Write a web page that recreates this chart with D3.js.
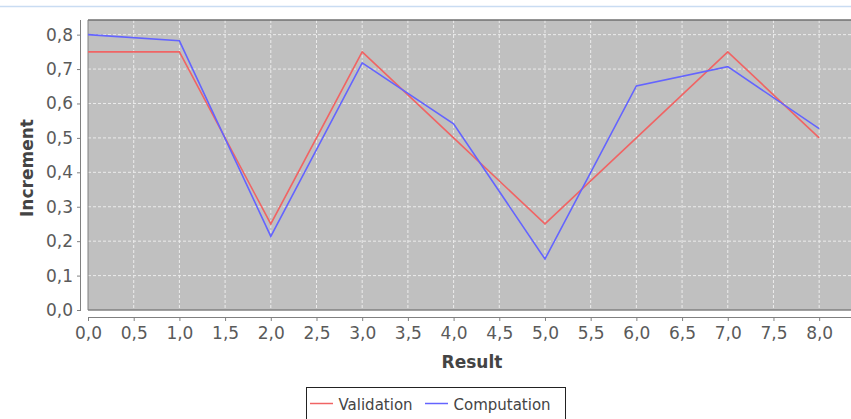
<!DOCTYPE html>
<html lang="en">
  <head>
    <meta charset="utf-8">
    <title>Increment vs Result</title>
    <style type="text/css">
      body{
        margin: 0;
        background: #ffffff;
      }
      .tick text{
        font-family: "DejaVu Sans", Verdana, sans-serif;
        font-size: 17px;
        fill: #5a5a5a;
      }
    </style>
    <script src="https://cdn.jsdelivr.net/npm/d3@7"></script>
  </head>
  <body>
    <div class="chart"></div>
    <script type="text/javascript">
      //series values, one point per result step
      var results = [0, 1, 2, 3, 4, 5, 6, 7, 8];
      var validation = [0.75, 0.75, 0.25, 0.75, 0.5, 0.25, 0.5, 0.75, 0.5];
      var computation = [0.80, 0.782, 0.214, 0.718, 0.541, 0.148, 0.651, 0.707, 0.527];
      var seriesNames = ["Validation", "Computation"];
      var seriesColors = ["#f06464", "#6464ff"];
      var xTicks = [0, 0.5, 1, 1.5, 2, 2.5, 3, 3.5, 4, 4.5, 5, 5.5, 6, 6.5, 7, 7.5, 8];
      var yTicks = [0, 0.1, 0.2, 0.3, 0.4, 0.5, 0.6, 0.7, 0.8];

      var width = 851;
      var height = 419;
      //plot area box
      var plot = {left: 88, right: 858, top: 20, bottom: 310};

      var svg = d3.select(".chart")
        .append("svg")
        .attr("width", width)
        .attr("height", height);

      //thin line across the top of the frame
      svg.append("line")
        .attr("x1", 0).attr("x2", width)
        .attr("y1", 6.5).attr("y2", 6.5)
        .attr("stroke", "#c9dcf2")
        .attr("stroke-width", 1.5);

      var x = d3.scaleLinear()
        .domain([0, 8.425])
        .range([plot.left, plot.right]);

      var y = d3.scaleLinear()
        .domain([0, 0.8425])
        .range([plot.bottom, plot.top]);

      var fmt = d => d3.format(".1f")(d).replace(".", ",");

      //grey plot background
      svg.append("rect")
        .attr("x", plot.left)
        .attr("y", plot.top)
        .attr("width", plot.right - plot.left)
        .attr("height", plot.bottom - plot.top)
        .attr("fill", "#c0c0c0");

      //dashed white grid
      svg.append("g")
        .selectAll("line")
        .data(xTicks.slice(1))
        .enter()
        .append("line")
        .attr("x1", d => x(d)).attr("x2", d => x(d))
        .attr("y1", plot.top).attr("y2", plot.bottom)
        .attr("stroke", "#ececec")
        .attr("stroke-width", 1)
        .attr("stroke-dasharray", "3,2");

      svg.append("g")
        .selectAll("line")
        .data(yTicks.slice(1))
        .enter()
        .append("line")
        .attr("x1", plot.left).attr("x2", plot.right)
        .attr("y1", d => y(d)).attr("y2", d => y(d))
        .attr("stroke", "#ececec")
        .attr("stroke-width", 1)
        .attr("stroke-dasharray", "3,2");

      //plot outline
      svg.append("line")
        .attr("x1", plot.left).attr("x2", plot.right)
        .attr("y1", plot.top).attr("y2", plot.top)
        .attr("stroke", "#707070").attr("stroke-width", 1.5);
      svg.append("line")
        .attr("x1", plot.left).attr("x2", plot.right)
        .attr("y1", plot.bottom).attr("y2", plot.bottom)
        .attr("stroke", "#808080").attr("stroke-width", 1.5);
      svg.append("line")
        .attr("x1", plot.left).attr("x2", plot.left)
        .attr("y1", plot.top).attr("y2", plot.bottom)
        .attr("stroke", "#808080").attr("stroke-width", 1);

      //axes sit a few pixels off the plot
      var yAxis = svg.append("g")
        .attr("transform", "translate(81,0)")
        .call(d3.axisLeft(y).tickValues(yTicks).tickFormat(fmt).tickSize(4).tickPadding(4));

      var xAxis = svg.append("g")
        .attr("transform", "translate(0,317)")
        .call(d3.axisBottom(x).tickValues(xTicks).tickFormat(fmt).tickSize(4).tickPadding(5.5));

      [yAxis, xAxis].forEach(a => {
        a.selectAll("path, line").attr("stroke", "#808080");
        a.selectAll("text").style("font-size", "17px");
      });
      yAxis.select(".domain").attr("d", `M-0.5,${plot.top}V${plot.bottom}`);
      xAxis.select(".domain").attr("d", `M${plot.left},0.5H${width}`);

      //axis titles
      svg.append("text")
        .attr("transform", `translate(33,${(plot.top + plot.bottom) / 2 + 3}) rotate(-90)`)
        .attr("text-anchor", "middle")
        .style("font-family", "DejaVu Sans, sans-serif")
        .style("font-size", "17px")
        .style("font-weight", "bold")
        .attr("fill", "#444")
        .text("Increment");

      svg.append("text")
        .attr("x", 472)
        .attr("y", 368)
        .attr("text-anchor", "middle")
        .style("font-family", "DejaVu Sans, sans-serif")
        .style("font-size", "17px")
        .style("font-weight", "bold")
        .attr("fill", "#444")
        .text("Result");

      //the two series
      var line = d3.line()
        .x((d, i) => x(results[i]))
        .y(d => y(d));

      [validation, computation].forEach((s, i) => {
        svg.append("path")
          .datum(s)
          .attr("d", line)
          .attr("fill", "none")
          .attr("stroke", seriesColors[i])
          .attr("stroke-width", 1.6);
      });

      //legend box at the bottom
      var legend = svg.append("g");
      legend.append("rect")
        .attr("x", 306.5).attr("y", 387.5)
        .attr("width", 259).attr("height", 40)
        .attr("fill", "#fff")
        .attr("stroke", "#222");

      var legendX = [310, 425];
      seriesNames.forEach((n, i) => {
        legend.append("line")
          .attr("x1", legendX[i]).attr("x2", legendX[i] + 23)
          .attr("y1", 403.5).attr("y2", 403.5)
          .attr("stroke", seriesColors[i])
          .attr("stroke-width", 1.5);
        legend.append("text")
          .attr("x", legendX[i] + 28.5)
          .attr("y", 410)
          .style("font-family", "DejaVu Sans, sans-serif")
          .style("font-size", "15px")
          .attr("fill", "#444")
          .text(n);
      });
    </script>
  </body>
</html>
